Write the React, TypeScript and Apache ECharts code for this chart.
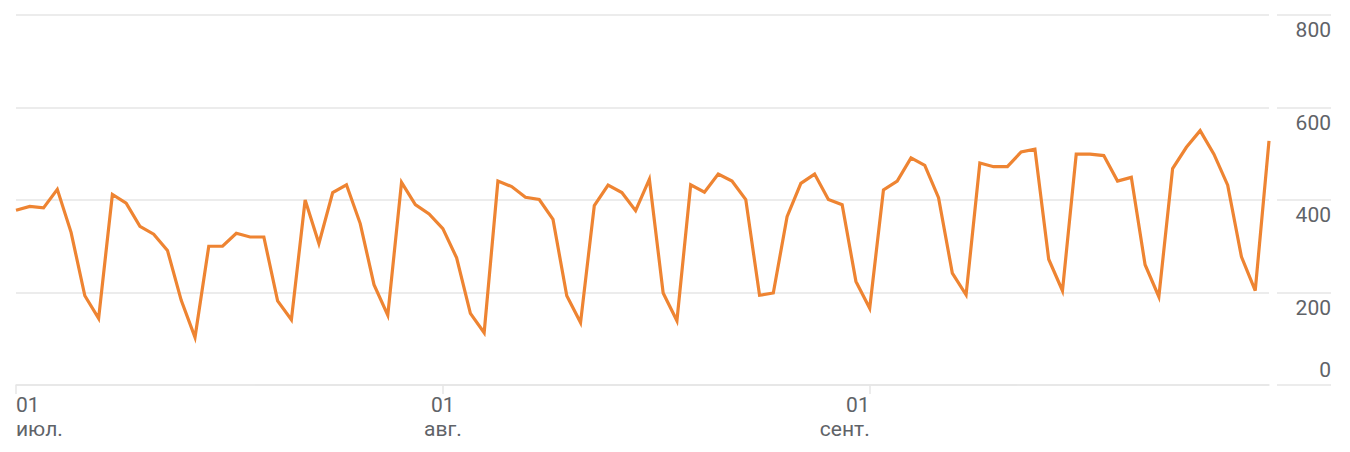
import { useEffect, useRef } from "react";
import * as echarts from "echarts";

// months shown on the x axis, one category per day
const MONTHS = [
  { label: "июл.", days: 31 },
  { label: "авг.", days: 31 },
  { label: "сент.", days: 30 },
];

const Y_TICKS = [0, 200, 400, 600, 800];

const VALUES = [
  378, 386, 383, 423, 330, 193, 144, 412, 393, 343, 326, 291, 183, 103, 300, 300,
  328, 320, 320, 182, 141, 400, 306, 416, 433, 349, 217, 151, 438, 390, 370,
  338, 275, 155, 113, 441, 429, 406, 401, 358, 193, 135, 388, 432, 416, 377,
  445, 199, 139, 433, 417, 456, 441, 401, 194, 199, 364, 436, 456, 401, 390,
  224, 166, 422, 441, 491, 475, 405, 242, 195, 480, 472, 472, 504, 510, 272,
  204, 499, 499, 496, 441, 449, 260, 191, 468, 514, 550, 499, 432, 277, 204, 528,
];

const CATEGORIES: string[] = MONTHS.flatMap((m) =>
  Array.from({ length: m.days }, (_, d) => `${String(d + 1).padStart(2, "0")}\n${m.label}`)
);

const LINE_COLOR = "#ee8432";
const GRID_COLOR = "#e6e6e6";
const TEXT_COLOR = "#5f6368";
const FONT = "Roboto, Arial, sans-serif";

const isMonthStart = (index: number) => CATEGORIES[index]?.startsWith("01\n");

export default function App() {
  const ref = useRef<HTMLDivElement | null>(null);

  useEffect(() => {
    document.body.style.margin = "0";
    if (!ref.current) return;
    const chart = echarts.init(ref.current, undefined, { renderer: "svg" });

    chart.setOption({
      animation: false,
      backgroundColor: "#ffffff",
      textStyle: { fontFamily: FONT },
      grid: [
        { left: 16, right: 81, top: 15, bottom: 67 },
        { left: 1277, right: 19, top: 15, bottom: 67 },
      ],
      xAxis: [
        {
          type: "category",
          gridIndex: 0,
          data: CATEGORIES,
          boundaryGap: false,
          axisLine: { show: true, lineStyle: { color: GRID_COLOR, width: 1.5 } },
          axisTick: {
            show: true,
            interval: (i: number) => isMonthStart(i),
            length: 9,
            lineStyle: { color: GRID_COLOR, width: 1.5 },
          },
          axisLabel: {
            interval: (i: number) => isMonthStart(i),
            align: "center",
            alignMinLabel: "left",
            alignMaxLabel: "right",
            margin: 8,
            color: TEXT_COLOR,
            fontSize: 21,
            lineHeight: 24,
            fontFamily: FONT,
          },
          splitLine: { show: false },
        },
        {
          type: "value",
          gridIndex: 1,
          min: 0,
          max: 1,
          show: false,
        },
      ],
      yAxis: [
        {
          type: "value",
          gridIndex: 0,
          position: "right",
          min: Y_TICKS[0],
          max: Y_TICKS[Y_TICKS.length - 1],
          interval: 200,
          axisLine: { show: false },
          axisTick: { show: false },
          axisLabel: {
            align: "right",
            verticalAlign: "top",
            verticalAlignMinLabel: "bottom",
            lineHeight: 30,
            margin: 62,
            color: TEXT_COLOR,
            fontSize: 21,
            fontFamily: FONT,
          },
          splitLine: { lineStyle: { color: GRID_COLOR, width: 1.5 } },
        },
        {
          type: "value",
          gridIndex: 1,
          min: Y_TICKS[0],
          max: Y_TICKS[Y_TICKS.length - 1],
          interval: 200,
          axisLine: { show: false },
          axisTick: { show: false },
          axisLabel: { show: false },
          splitLine: { lineStyle: { color: GRID_COLOR, width: 1.5 } },
        },
      ],
      series: [
        {
          type: "line",
          xAxisIndex: 0,
          yAxisIndex: 0,
          data: VALUES,
          showSymbol: false,
          symbol: "none",
          lineStyle: { color: LINE_COLOR, width: 3.2, join: "miter" },
        },
      ],
    });

    const onResize = () => chart.resize();
    window.addEventListener("resize", onResize);
    return () => {
      window.removeEventListener("resize", onResize);
      chart.dispose();
    };
  }, []);

  return <div ref={ref} style={{ width: 1350, height: 452 }} />;
}
